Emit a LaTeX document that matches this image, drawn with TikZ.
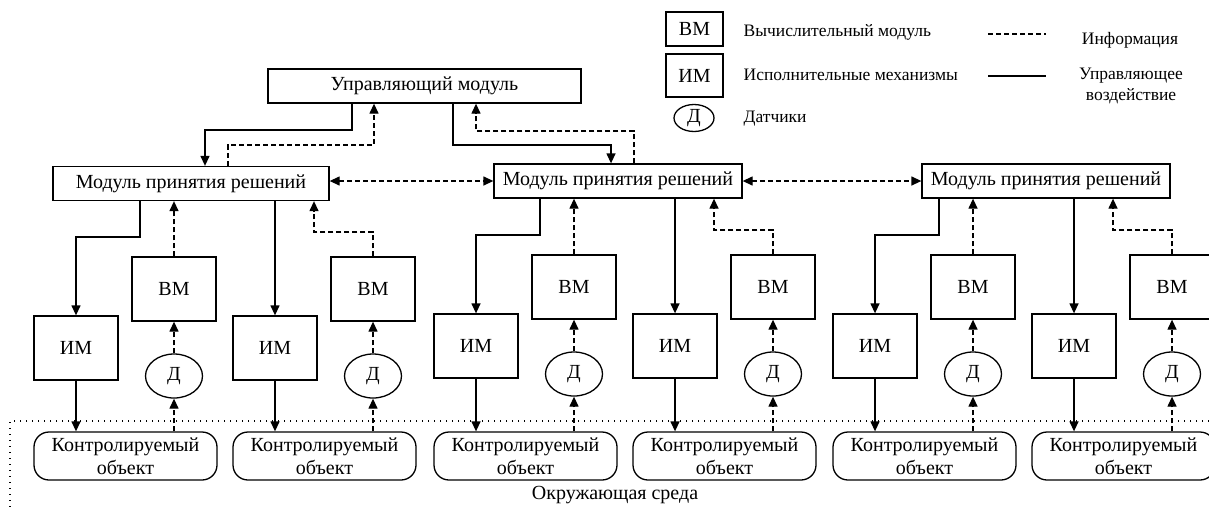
\documentclass[tikz,border=0pt]{standalone}
\usepackage{fontspec}
\setmainfont{Liberation Serif}
\usetikzlibrary{arrows.meta,shapes.geometric,calc}
\begin{document}
\begin{tikzpicture}[x=1pt,y=-1pt,
  line width=1.3pt,
  every node/.style={font=\fontsize{20}{23}\selectfont, inner sep=0pt},
  box/.style={draw, rectangle, minimum width=84pt, minimum height=64pt},
  wide/.style={draw, rectangle, minimum height=34pt},
  sensor/.style={draw, ellipse, minimum width=57pt, minimum height=44pt},
  plant/.style={draw, rounded corners=15pt, minimum width=183pt, minimum height=48pt, align=center},
  tip/.tip={Triangle[length=10pt,width=9pt]},
  ctl/.style={-tip},
  info/.style={ctl, dash pattern=on 5pt off 3pt},
  infoline/.style={dash pattern=on 5pt off 3pt},
  env/.style={dash pattern=on 1.2pt off 4.8pt, line width=1.2pt},
  legtext/.style={font=\fontsize{17.5}{21}\selectfont},
]
\useasboundingbox (0,0) rectangle (1209,509);
\clip (0,0) rectangle (1209,509);

% environment boundary
\coordinate (e1) at (1215,421);
\coordinate (e2) at (10,421);
\coordinate (e3) at (10,515);
\draw[env] (e1) -- (e2) -- (e3);
\node (envlabel) at (615,495) {Окружающая среда};

% control module and decision modules
\node[wide, minimum width=313pt] (um) at (424.5,86) {Управляющий модуль};
\node[wide, minimum width=276pt] (mpra) at (191,183.5) {Модуль принятия решений};
\node[wide, minimum width=248pt] (mprb) at (618,181) {Модуль принятия решений};
\node[wide, minimum width=248pt] (mprc) at (1046,181) {Модуль принятия решений};

% links between control module and decision modules
\coordinate (t1) at (352,130);  \coordinate (t1b) at (205,130);
\coordinate (t2) at (228,145);  \coordinate (t2b) at (374,145);
\coordinate (t3) at (453,145);  \coordinate (t3b) at (611,145);
\coordinate (t4) at (634,131);  \coordinate (t4b) at (476,131);
\draw[ctl]  (t1 |- um.south) -- (t1) -- (t1b) -- (t1b |- mpra.north);
\draw[info] (t2 |- mpra.north) -- (t2) -- (t2b) -- (t2b |- um.south);
\draw[ctl]  (t3 |- um.south) -- (t3) -- (t3b) -- (t3b |- mprb.north);
\draw[info] (t4 |- mprb.north) -- (t4) -- (t4b) -- (t4b |- um.south);

% information exchange between decision modules
\draw[info, tip-tip] (mpra.east |- mprb.west) -- (mprb.west);
\draw[info, tip-tip] (mprb.east) -- (mprc.west);

% three local control loops
\foreach \g/\dy/\gr in {76/2/a, 476/0/b, 875/0/c}{
  \node[box] (im1\gr) at (\g, 346+\dy) {ИМ};
  \node[box] (vm1\gr) at (\g+98, 287+\dy) {ВМ};
  \node[sensor] (d1\gr) at (\g+98, 374+\dy) {Д};
  \node[plant] (ko1\gr) at (\g+49.5, 456) {Контролируемый\\объект};
  \node[box] (im2\gr) at (\g+199, 346+\dy) {ИМ};
  \node[box] (vm2\gr) at (\g+297, 287+\dy) {ВМ};
  \node[sensor] (d2\gr) at (\g+297, 374+\dy) {Д};
  \node[plant] (ko2\gr) at (\g+248.5, 456) {Контролируемый\\объект};
  \coordinate (s1\gr) at (\g+64, 235+\dy);
  \coordinate (s2\gr) at (\g+238, 230+\dy);
  % decision module to actuators
  \draw[ctl] (s1\gr |- mpr\gr.south) -- (s1\gr) -| (im1\gr.north);
  \draw[ctl] (im2\gr.north |- mpr\gr.south) -- (im2\gr.north);
  % computing modules to decision module
  \draw[info] (vm1\gr.north) -- (vm1\gr.north |- mpr\gr.south);
  \draw[info] (vm2\gr.north) |- (s2\gr) -- (s2\gr |- mpr\gr.south);
  % actuators to plants
  \draw[ctl] (im1\gr.south) -- (im1\gr.south |- ko1\gr.north);
  \draw[ctl] (im2\gr.south) -- (im2\gr.south |- ko2\gr.north);
  % plants to sensors to computing modules
  \draw[info] (d1\gr.south |- ko1\gr.north) -- (d1\gr.south);
  \draw[info] (d2\gr.south |- ko2\gr.north) -- (d2\gr.south);
  \draw[info] (d1\gr.north) -- (vm1\gr.south);
  \draw[info] (d2\gr.north) -- (vm2\gr.south);
}

% legend
\node[draw, minimum width=57pt, minimum height=34pt] (lvm) at (694.5,29) {ВМ};
\node[draw, minimum width=57pt, minimum height=43pt] (lim) at (694.5,75.5) {ИМ};
\node[draw, ellipse, minimum width=40pt, minimum height=27pt] (ld) at (694,118) {Д};
\node[legtext, anchor=west] (lvmt) at (743,32) {Вычислительный модуль};
\node[legtext, anchor=west] (limt) at (743,75) {Исполнительные механизмы};
\node[legtext, anchor=west] (ldt) at (743,119) {Датчики};
\coordinate (li1) at (988,34);  \coordinate (li2) at (1046,34);
\coordinate (lc1) at (988,76);  \coordinate (lc2) at (1046,76);
\draw[infoline, line width=1.1pt] (li1) -- (li2);
\draw[line width=1.1pt] (lc1) -- (lc2);
\node[legtext] (linfo) at (1130,40) {Информация};
\node[legtext, align=center] (lctl) at (1131,86) {Управляющее\\воздействие};
\end{tikzpicture}
\end{document}
